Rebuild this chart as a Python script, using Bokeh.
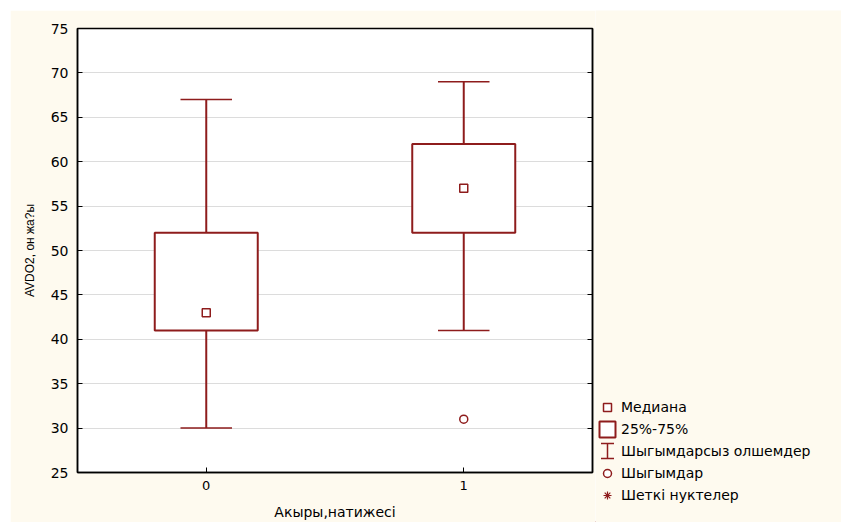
import numpy as np
from bokeh.plotting import figure
from bokeh.layouts import row, column
from bokeh.models import (Range1d, LinearAxis, FixedTicker, Legend, LegendItem,
                          Arrow, TeeHead, ColumnDataSource)
from bokeh.embed import file_html
from bokeh.resources import INLINE

# ---- data ----
categories = ["0", "1"]
q1 = [41, 52]
q3 = [52, 62]
medians = [43, 57]
whisker_low = [30, 41]
whisker_high = [67, 69]
outlier_cat = ["1"]
outlier_val = [31]
extreme_cat = []
extreme_val = []
y_ticks = [25, 30, 35, 40, 45, 50, 55, 60, 65, 70, 75]
legend_labels = ["Медиана", "25%-75%", "Шыгымдарсыз олшемдер", "Шыгымдар", "Шеткі нуктелер"]
x_title = "Акыры,натижесі"
y_title = "AVDO2, он жа?ы"

# ---- styling ----
RED = "#8e1c1c"
CREAM = "#fefaef"
BOX_W = 0.4
CAP_W = 0.2

xpos = np.arange(len(categories), dtype=float)

p = figure(width=585, height=512, output_backend="svg", toolbar_location=None,
           x_range=Range1d(-0.5, len(categories) - 0.5), y_range=Range1d(25, 75),
           min_border_left=67, min_border_right=3, min_border_top=18, min_border_bottom=48)
p.margin = (10, 0, 0, 10)
p.border_fill_color = CREAM
p.background_fill_color = "white"
p.outline_line_color = "black"
p.outline_line_width = 1.5

# whisker stems
p.segment(x0=xpos, y0=whisker_low, x1=xpos, y1=q1, line_color=RED, line_width=2)
p.segment(x0=xpos, y0=q3, x1=xpos, y1=whisker_high, line_color=RED, line_width=2)
# whisker caps
p.segment(x0=xpos - CAP_W / 2, y0=whisker_low, x1=xpos + CAP_W / 2, y1=whisker_low,
          line_color=RED, line_width=1.5)
p.segment(x0=xpos - CAP_W / 2, y0=whisker_high, x1=xpos + CAP_W / 2, y1=whisker_high,
          line_color=RED, line_width=1.5)
# boxes
box_style = dict(fill_color="white", line_color=RED, line_width=2)
p.vbar(x=xpos, width=BOX_W, bottom=q1, top=q3, **box_style)
# medians
med_style = dict(marker="square", size=8, fill_color="white", line_color=RED, line_width=1.5)
p.scatter(x=xpos, y=medians, **med_style)
# outliers
out_style = dict(marker="circle", size=8, fill_color="white", line_color=RED, line_width=1.5)
ox = [categories.index(c) for c in outlier_cat]
p.scatter(x=ox, y=outlier_val, **out_style)
# extremes (none in this data)
ext_style = dict(marker="asterisk", size=9, line_color=RED, line_width=1.2)
p.scatter(x=[categories.index(c) for c in extreme_cat], y=extreme_val, **ext_style)

# ---- axes ----
yt = FixedTicker(ticks=y_ticks)
p.yaxis.ticker = yt
p.xaxis.ticker = FixedTicker(ticks=list(xpos))
p.xaxis.major_label_overrides = {i: c for i, c in enumerate(categories)}

for ax in (p.xaxis[0], p.yaxis[0]):
    ax.axis_line_color = "black"
    ax.axis_line_width = 1.5
    ax.major_tick_in = 5
    ax.major_tick_out = 0
    ax.minor_tick_line_color = None
    ax.major_tick_line_color = "black"
    ax.major_label_text_font = "DejaVu Sans"
    ax.major_label_text_color = "black"
    ax.axis_label_text_font_style = "normal"
    ax.axis_label_text_color = "black"

p.yaxis.major_label_text_font_size = "14px"
p.yaxis.major_label_standoff = 9
p.yaxis.axis_label = y_title
p.yaxis.axis_label_text_font = "Liberation Sans"
p.yaxis.axis_label_text_font_size = "12px"
p.yaxis.axis_label_standoff = 11

p.xaxis.major_label_text_font_size = "13px"
p.xaxis.major_label_standoff = 8
p.xaxis.axis_label = x_title
p.xaxis.axis_label_text_font = "DejaVu Sans"
p.xaxis.axis_label_text_font_size = "14px"
p.xaxis.axis_label_standoff = 11

right = LinearAxis(ticker=yt, major_tick_in=5, major_tick_out=0, axis_line_color="black",
                   axis_line_width=1.5, minor_tick_line_color=None, major_label_standoff=0,
                   major_label_overrides={t: "" for t in y_ticks})
p.add_layout(right, "right")

p.xgrid.grid_line_color = None
p.ygrid.grid_line_color = "#dcdcdc"
p.ygrid.grid_line_width = 1

# ---- legend panel (its own figure; proxy renderers sit outside its ranges) ----
q = figure(width=246, height=512, output_backend="svg", toolbar_location=None,
           x_axis_location=None, y_axis_location=None,
           x_range=Range1d(0, 1), y_range=Range1d(0, 1),
           min_border_left=0, min_border_right=0, min_border_top=0, min_border_bottom=0)
q.margin = (10, 0, 0, 0)
q.border_fill_color = CREAM
q.background_fill_color = CREAM
q.outline_line_color = None
q.xgrid.visible = False
q.ygrid.visible = False

proxy = dict(x=[-5], y=[-5], b=[-6])
lg_med = q.scatter(x="x", y="y", source=ColumnDataSource(proxy), **med_style)
lg_box = q.vbar(x="x", top="y", bottom="b", width=0.1, source=ColumnDataSource(proxy), **box_style)
lg_wh = q.scatter(x="x", y="y", source=ColumnDataSource(proxy), marker="square", size=1,
                  fill_alpha=0, line_alpha=0)
lg_out = q.scatter(x="x", y="y", source=ColumnDataSource(proxy), **out_style)
lg_ext = q.scatter(x="x", y="y", source=ColumnDataSource(proxy), **ext_style)

items = [LegendItem(label=legend_labels[0], renderers=[lg_med]),
         LegendItem(label=legend_labels[1], renderers=[lg_box]),
         LegendItem(label=legend_labels[2], renderers=[lg_wh]),
         LegendItem(label=legend_labels[3], renderers=[lg_out]),
         LegendItem(label=legend_labels[4], renderers=[lg_ext])]
legend = Legend(items=items, location=(2, 17), orientation="vertical",
                glyph_width=20, glyph_height=20, label_height=20, spacing=2,
                padding=0, margin=0, label_standoff=4,
                background_fill_alpha=0, border_line_alpha=0,
                label_text_font="DejaVu Sans", label_text_font_size="14px",
                label_text_color="black")
q.add_layout(legend)

ibeam = Arrow(x_start=12, y_start=64, x_end=12, y_end=79,
              start_units="screen", end_units="screen",
              line_color=RED, line_width=1.5,
              start=TeeHead(size=13, line_color=RED, line_width=1.5),
              end=TeeHead(size=13, line_color=RED, line_width=1.5))
q.add_layout(ibeam)

layout = row(p, column(q))
open("out.html", "w").write(file_html(layout, INLINE))
